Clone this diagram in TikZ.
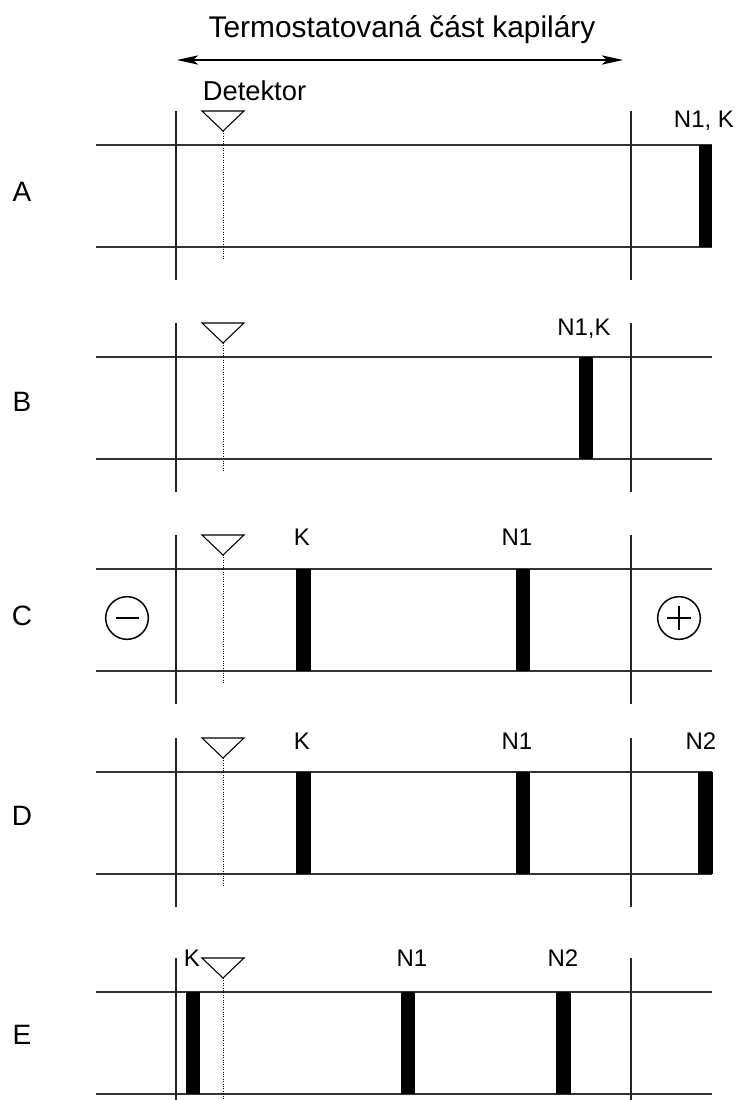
\documentclass[tikz,border=0pt]{standalone}
\usepackage{fontspec}
\setmainfont{Liberation Sans}
\usetikzlibrary{arrows.meta}
\tikzset{zonetip/.tip={Stealth[length=16pt,width=7pt,inset=4pt]}}
\begin{document}
\begin{tikzpicture}[x=0.75pt,y=-0.75pt,
  tube/.style={line width=0.8pt, black!80},
  wall/.style={line width=0.8pt, black!85},
  probe/.style={line width=0.6pt, dash pattern=on 0.7pt off 1.1pt},
  sensor/.style={line width=0.8pt, line join=miter},
  band/.style={fill=black, draw=none},
  peak/.style={font=\fontsize{18}{18}\selectfont, anchor=base, inner sep=0pt},
  tag/.style={font=\fontsize{21}{21}\selectfont, inner sep=0pt},
  pole/.style={circle, draw, line width=1.1pt, minimum size=32pt, inner sep=0pt},
  sign/.style={line width=1.3pt}
]
\useasboundingbox (0,0) rectangle (739,1100);
\clip (0,0) rectangle (739,1100);

% heading with the thermostatted zone
\node[font=\fontsize{22.4}{22.4}\selectfont, anchor=base, inner sep=0pt] (title) at (402,37) {Termostatovaná část kapiláry};
\coordinate (zl) at (177,60);
\coordinate (zr) at (623,60);
\draw[line width=0.8pt, {zonetip}-{zonetip}] (zl) -- (zr);
\node[font=\fontsize{20.5}{20.5}\selectfont, anchor=base, inner sep=0pt] (det) at (254.5,100) {Detektor};

% capillary, zone borders and detector in each panel
\foreach \t/\l/\ly in {145/A/192, 357/B/402, 569/C/616, 772/D/816, 992/E/1035}{
  \pgfmathsetmacro{\b}{\t+102}
  \draw[tube] (96,\t) -- (712,\t);
  \draw[tube] (96,\b) -- (712,\b);
  \draw[wall] (176,\t-34) -- (176,\b+33);
  \draw[wall] (631,\t-34) -- (631,\b+33);
  \draw[sensor] (202,\t-34) -- (244,\t-34) -- (223,\t-14) -- cycle;
  \draw[probe] (223,\t-14) -- (223,\b+12);
  \node[tag] (lbl\l) at (22,\ly) {\l};
}

% panel A
\fill[band] (699,145) rectangle (712,247);
\node[peak] (aNK) at (704,127) {N1, K};

% panel B
\fill[band] (579,357) rectangle (593,459);
\node[peak] (bNK) at (584,335) {N1,K};

% panel C
\fill[band] (296,569) rectangle (311,671);
\fill[band] (516,569) rectangle (530,671);
\node[peak] (cK) at (302,545) {K};
\node[peak] (cN1) at (517,545) {N1};
\node[pole] (minus) at (127,618) {};
\draw[sign] (115.5,618) -- (138.5,618);
\node[pole] (plus) at (679,618) {};
\draw[sign] (667,618) -- (691,618);
\draw[sign] (679,606) -- (679,630);

% panel D
\fill[band] (296,772) rectangle (311,874);
\fill[band] (516,772) rectangle (530,874);
\fill[band] (698,772) rectangle (713,874);
\node[peak] (dK) at (302,749) {K};
\node[peak] (dN1) at (517,749) {N1};
\node[peak] (dN2) at (701,749) {N2};

% panel E
\fill[band] (186,992) rectangle (200,1094);
\fill[band] (401,992) rectangle (415,1094);
\fill[band] (556,992) rectangle (571,1094);
\node[peak] (eK) at (192,966) {K};
\node[peak] (eN1) at (412,966) {N1};
\node[peak] (eN2) at (563,966) {N2};
\end{tikzpicture}
\end{document}
